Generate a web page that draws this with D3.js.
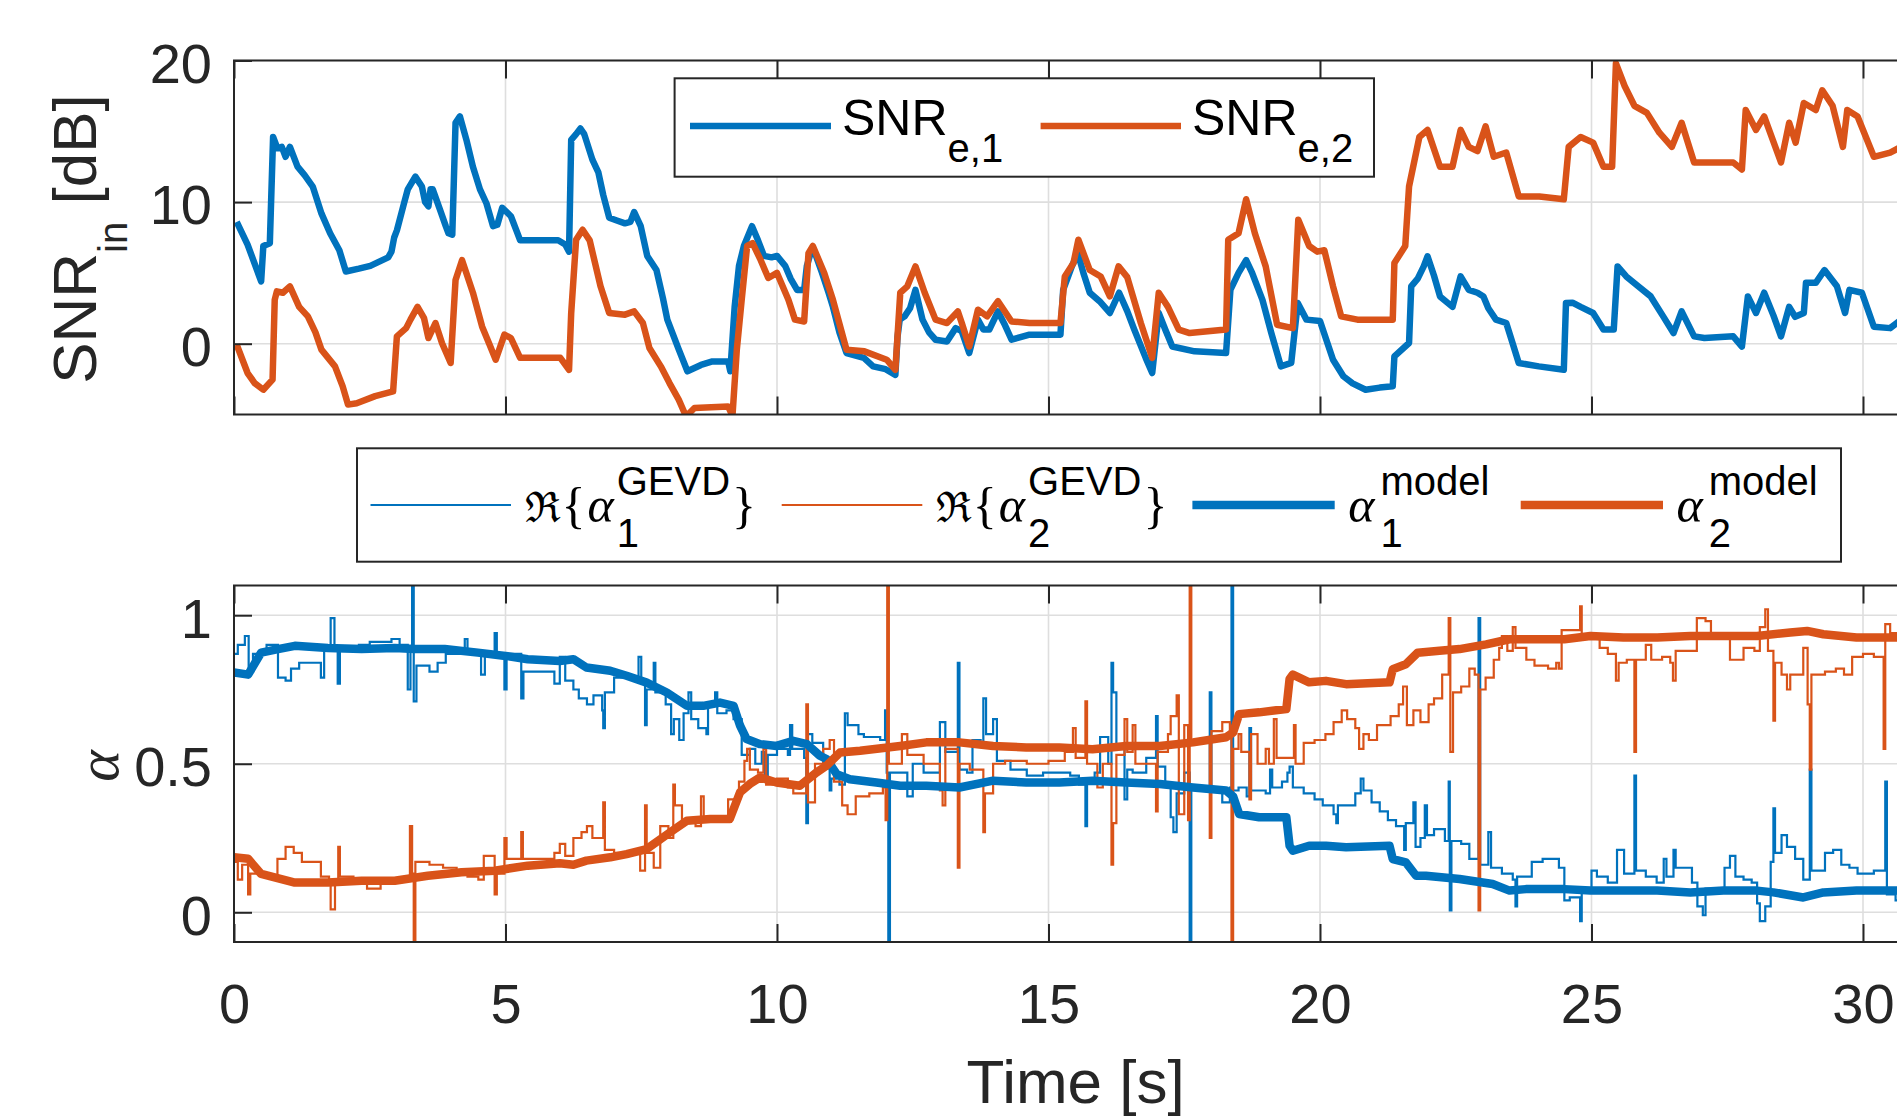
<!DOCTYPE html>
<html>
<head>
<meta charset="utf-8">
<script src="https://cdn.jsdelivr.net/npm/d3@7"></script>
<style>
  body { margin: 0; background: #fff; }
  svg { display: block; }
</style>
</head>
<body>
<script>
// values: [time in s, value]

var timeTicks = [0, 5, 10, 15, 20, 25, 30];
var snrTicks = [0, 10, 20];
var alphaTicks = [0, 0.5, 1];

var snrE1 = [[0.05,8.6],[0.25,7.0],[0.5,4.4],[0.54,6.9],[0.66,7.1],[0.72,14.6],[0.8,13.8],[0.88,13.9],[0.95,13.2],[1.03,13.9],[1.17,12.5],[1.3,11.9],[1.45,11.1],[1.61,9.2],[1.77,7.8],[1.94,6.6],[2.06,5.1],[2.3,5.3],[2.51,5.5],[2.84,6.1],[2.9,6.5],[2.95,7.5],[3.0,8.0],[3.13,9.9],[3.2,10.9],[3.34,11.8],[3.46,11.1],[3.52,10.0],[3.58,9.7],[3.62,10.9],[3.66,10.9],[3.79,9.5],[3.9,8.3],[3.95,7.8],[4.02,7.7],[4.08,15.6],[4.16,16.05],[4.28,14.4],[4.4,12.5],[4.53,10.9],[4.65,9.9],[4.77,8.3],[4.85,8.4],[4.94,9.6],[5.1,9.0],[5.2,8.0],[5.27,7.3],[5.6,7.3],[5.97,7.3],[6.1,7.0],[6.17,6.5],[6.21,14.4],[6.3,14.8],[6.38,15.2],[6.45,14.8],[6.6,13.0],[6.71,12.1],[6.8,10.5],[6.91,8.9],[7.05,8.7],[7.2,8.5],[7.3,8.6],[7.37,9.3],[7.49,8.3],[7.61,6.2],[7.78,5.2],[7.9,3.2],[7.98,1.7],[8.19,-0.4],[8.35,-1.95],[8.6,-1.5],[8.81,-1.25],[9.1,-1.25],[9.14,-1.95],[9.22,2.6],[9.3,5.5],[9.39,6.9],[9.54,8.3],[9.65,7.3],[9.76,6.2],[9.9,6.1],[10.0,6.2],[10.15,5.5],[10.25,4.6],[10.37,3.8],[10.5,3.8],[10.55,5.5],[10.62,6.4],[10.7,6.4],[10.83,5.0],[10.95,3.6],[11.03,2.6],[11.15,0.8],[11.28,-0.66],[11.6,-1.0],[11.77,-1.6],[12.0,-1.8],[12.18,-2.2],[12.22,0.5],[12.26,1.7],[12.35,1.93],[12.45,2.5],[12.55,3.8],[12.68,1.7],[12.8,0.8],[12.92,0.28],[13.13,0.16],[13.29,1.1],[13.4,0.9],[13.54,-0.66],[13.7,1.7],[13.8,1.0],[13.91,1.0],[14.07,2.28],[14.2,1.3],[14.32,0.28],[14.65,0.64],[15.22,0.64],[15.27,3.8],[15.43,5.46],[15.54,6.4],[15.65,4.9],[15.76,3.6],[15.94,3.0],[16.13,2.17],[16.3,3.6],[16.45,2.3],[16.58,1.0],[16.79,-1.0],[16.91,-2.07],[17.03,2.17],[17.15,1.0],[17.28,-0.2],[17.69,-0.54],[18.27,-0.66],[18.35,3.8],[18.5,5.0],[18.64,5.9],[18.75,5.0],[18.94,3.1],[19.1,0.8],[19.28,-1.6],[19.47,-1.36],[19.59,2.87],[19.75,1.7],[20.0,1.6],[20.24,-1.13],[20.43,-2.3],[20.6,-2.8],[20.84,-3.25],[21.1,-3.1],[21.34,-3.0],[21.37,-0.9],[21.64,0.05],[21.68,4.05],[21.8,4.6],[21.91,5.46],[21.98,6.17],[22.1,4.8],[22.21,3.34],[22.44,2.6],[22.59,4.75],[22.74,3.8],[22.9,3.6],[23.01,3.34],[23.1,2.5],[23.24,1.7],[23.43,1.46],[23.55,0.0],[23.66,-1.36],[24.03,-1.6],[24.49,-1.84],[24.53,2.87],[24.65,2.9],[24.8,2.6],[25.03,2.17],[25.22,1.0],[25.41,1.0],[25.48,5.46],[25.64,4.75],[25.86,4.05],[26.09,3.34],[26.32,1.93],[26.51,0.75],[26.66,2.28],[26.89,0.52],[27.08,0.4],[27.61,0.52],[27.77,-0.2],[27.88,3.34],[28.03,2.17],[28.18,3.6],[28.35,2.0],[28.49,0.52],[28.64,2.6],[28.75,1.9],[28.91,2.17],[28.95,4.3],[29.13,4.3],[29.29,5.2],[29.52,4.05],[29.67,2.17],[29.75,3.8],[29.98,3.6],[30.2,1.2],[30.5,1.1],[30.7,1.7]];

var snrE2 = [[0.05,-0.07],[0.25,-2.07],[0.38,-2.78],[0.54,-3.25],[0.71,-2.54],[0.75,3.1],[0.79,3.7],[0.9,3.6],[1.03,4.05],[1.2,2.6],[1.36,1.93],[1.5,0.8],[1.61,-0.42],[1.86,-1.6],[2.0,-3.0],[2.1,-4.3],[2.26,-4.2],[2.6,-3.7],[2.93,-3.37],[3.0,0.52],[3.17,1.1],[3.25,1.7],[3.38,2.6],[3.5,1.8],[3.58,0.4],[3.71,1.46],[3.83,0.05],[3.99,-1.36],[4.08,4.5],[4.2,5.9],[4.4,3.6],[4.57,1.2],[4.7,0.0],[4.82,-1.13],[4.98,0.64],[5.1,0.4],[5.27,-1.0],[6.01,-1.0],[6.17,-1.84],[6.21,2.17],[6.3,7.34],[6.42,8.05],[6.55,7.3],[6.75,4.05],[6.91,2.17],[7.2,2.05],[7.37,2.28],[7.53,1.46],[7.65,-0.3],[7.86,-1.6],[8.02,-2.78],[8.19,-3.95],[8.31,-5.0],[8.36,-5.0],[8.48,-4.54],[9.1,-4.43],[9.18,-5.1],[9.26,-0.42],[9.35,3.1],[9.45,6.9],[9.55,7.1],[9.7,5.9],[9.84,4.64],[10.0,5.0],[10.21,3.1],[10.33,1.7],[10.5,1.57],[10.58,6.4],[10.66,6.9],[10.87,5.0],[11.03,3.1],[11.28,-0.42],[11.61,-0.54],[12.02,-1.13],[12.18,-1.84],[12.27,3.6],[12.4,4.05],[12.55,5.46],[12.72,3.6],[12.92,1.7],[13.13,1.46],[13.33,2.28],[13.4,1.5],[13.54,-0.2],[13.7,2.4],[13.87,1.93],[14.07,3.0],[14.32,1.57],[14.65,1.46],[15.22,1.46],[15.3,4.75],[15.46,5.7],[15.55,7.34],[15.76,5.2],[15.96,4.75],[16.13,3.34],[16.29,5.46],[16.45,4.7],[16.7,1.46],[16.91,-1.0],[17.03,3.6],[17.2,2.6],[17.4,1.0],[17.6,0.75],[18.27,1.0],[18.31,7.34],[18.5,7.8],[18.64,10.2],[18.8,7.8],[19.0,5.46],[19.21,1.34],[19.5,1.1],[19.6,8.76],[19.8,6.9],[19.95,6.5],[20.08,6.6],[20.24,4.05],[20.39,1.93],[20.69,1.7],[21.34,1.7],[21.37,5.7],[21.57,6.9],[21.64,11.1],[21.83,14.6],[21.98,15.1],[22.21,12.5],[22.44,12.5],[22.59,15.1],[22.74,13.9],[22.9,13.6],[23.05,15.35],[23.2,13.2],[23.43,13.5],[23.66,10.4],[24.04,10.4],[24.49,10.2],[24.58,13.9],[24.8,14.6],[25.03,14.2],[25.22,12.5],[25.38,12.5],[25.45,19.8],[25.61,18.2],[25.79,16.8],[26.02,16.3],[26.25,14.9],[26.48,13.9],[26.66,15.6],[26.89,12.8],[27.61,12.8],[27.77,12.3],[27.84,16.5],[28.03,15.1],[28.18,16.05],[28.49,12.8],[28.64,15.6],[28.76,14.2],[28.91,17.0],[29.13,16.5],[29.25,17.9],[29.44,16.8],[29.63,13.9],[29.71,16.5],[29.9,16.05],[30.2,13.2],[30.5,13.5],[30.7,13.9]];

var alpha1Gevd = [[0,0.87],[0.07,0.9],[0.2,0.93],[0.27,0.81],[0.35,0.87],[0.5,0.88],[0.6,0.9],[0.81,0.79],[0.95,0.78],[1.05,0.82],[1.2,0.84],[1.5,0.84],[1.6,0.79],[1.66,0.88],[1.78,0.99],[1.85,0.88],[1.91,0.77],[1.95,0.89],[2.3,0.9],[2.5,0.91],[2.9,0.92],[3.05,0.9],[3.2,0.75],[3.25,0.88],[3.28,1.15],[3.31,0.71],[3.36,0.83],[3.6,0.81],[3.75,0.84],[3.9,0.87],[4.25,0.92],[4.3,0.87],[4.55,0.8],[4.62,0.87],[4.8,0.94],[4.84,0.87],[4.98,0.75],[5.02,0.87],[5.29,0.72],[5.33,0.81],[5.6,0.81],[5.9,0.77],[6.0,0.86],[6.1,0.78],[6.25,0.75],[6.35,0.72],[6.5,0.7],[6.62,0.73],[6.78,0.68],[6.8,0.62],[6.83,0.74],[7.0,0.79],[7.3,0.79],[7.45,0.86],[7.5,0.78],[7.57,0.63],[7.6,0.75],[7.73,0.84],[7.76,0.74],[7.95,0.7],[8.05,0.6],[8.1,0.65],[8.2,0.58],[8.28,0.67],[8.37,0.74],[8.42,0.65],[8.55,0.62],[8.7,0.6],[8.73,0.7],[8.86,0.74],[8.9,0.67],[9.07,0.68],[9.2,0.65],[9.35,0.53],[9.5,0.55],[9.6,0.5],[9.72,0.54],[9.78,0.46],[9.83,0.53],[10.0,0.55],[10.2,0.53],[10.24,0.63],[10.28,0.55],[10.5,0.52],[10.54,0.3],[10.57,0.6],[10.65,0.57],[10.85,0.5],[10.97,0.41],[11.0,0.45],[11.15,0.43],[11.25,0.67],[11.3,0.63],[11.5,0.6],[11.6,0.59],[11.9,0.58],[11.99,0.68],[12.02,0.47],[12.05,-0.15],[12.08,0.47],[12.3,0.47],[12.4,0.39],[12.5,0.5],[12.7,0.47],[13.0,0.64],[13.1,0.54],[13.3,0.54],[13.33,0.84],[13.36,0.48],[13.5,0.47],[13.6,0.58],[13.75,0.57],[13.8,0.72],[13.85,0.6],[13.98,0.65],[14.05,0.51],[14.3,0.48],[14.6,0.46],[14.9,0.47],[15.2,0.47],[15.4,0.46],[15.56,0.43],[15.68,0.29],[15.71,0.45],[15.85,0.47],[15.95,0.59],[16.1,0.5],[16.16,0.84],[16.19,0.74],[16.25,0.55],[16.4,0.38],[16.45,0.48],[16.55,0.47],[16.8,0.52],[16.98,0.66],[17.01,0.49],[17.15,0.43],[17.25,0.32],[17.3,0.27],[17.36,0.4],[17.5,0.47],[17.6,-0.15],[17.63,0.42],[17.85,0.42],[17.97,0.74],[18.0,0.42],[18.2,0.37],[18.34,0.42],[18.37,1.15],[18.4,0.41],[18.5,0.42],[18.65,0.39],[18.7,0.62],[18.73,0.41],[18.9,0.41],[19.0,0.4],[19.08,0.48],[19.12,0.42],[19.3,0.44],[19.4,0.47],[19.44,0.49],[19.5,0.42],[19.7,0.4],[19.9,0.38],[20.05,0.36],[20.25,0.33],[20.3,0.3],[20.33,0.36],[20.5,0.36],[20.65,0.4],[20.75,0.45],[20.8,0.41],[20.95,0.37],[21.1,0.34],[21.25,0.31],[21.4,0.29],[21.55,0.21],[21.58,0.3],[21.72,0.37],[21.76,0.22],[21.85,0.25],[21.93,0.36],[21.97,0.26],[22.1,0.28],[22.3,0.24],[22.37,0.44],[22.39,0.006],[22.42,0.24],[22.6,0.23],[22.75,0.18],[22.92,0.99],[22.95,0.16],[23.1,0.27],[23.15,0.15],[23.35,0.13],[23.55,0.11],[23.6,0.02],[23.63,0.12],[23.75,0.12],[23.9,0.17],[24.1,0.18],[24.35,0.18],[24.4,0.15],[24.5,0.04],[24.6,0.05],[24.79,-0.03],[24.82,0.08],[24.9,0.08],[25.0,0.14],[25.1,0.12],[25.3,0.1],[25.47,0.21],[25.6,0.13],[25.79,0.46],[25.82,0.14],[26.0,0.12],[26.2,0.1],[26.33,0.18],[26.38,0.12],[26.51,0.21],[26.55,0.15],[26.7,0.15],[26.85,0.1],[26.95,0.02],[27.05,-0.01],[27.1,0.08],[27.3,0.08],[27.45,0.15],[27.55,0.19],[27.65,0.12],[27.8,0.11],[27.95,0.1],[28.05,0.03],[28.1,-0.03],[28.2,0.02],[28.3,0.17],[28.35,0.35],[28.38,0.2],[28.5,0.26],[28.6,0.22],[28.75,0.18],[28.9,0.11],[29.02,0.48],[29.05,0.14],[29.15,0.14],[29.3,0.2],[29.45,0.21],[29.6,0.16],[29.75,0.15],[29.9,0.13],[30.2,0.14],[30.41,0.44],[30.44,0.06],[30.6,0.04],[30.7,0.05]];

var alpha2Gevd = [[0,0.17],[0.07,0.11],[0.15,0.16],[0.26,0.06],[0.3,0.13],[0.4,0.13],[0.6,0.12],[0.8,0.18],[0.95,0.22],[1.1,0.2],[1.25,0.17],[1.5,0.17],[1.6,0.12],[1.75,0.1],[1.78,0.01],[1.86,0.1],[1.92,0.22],[1.95,0.12],[2.2,0.1],[2.45,0.08],[2.7,0.1],[3.0,0.11],[3.2,0.12],[3.24,0.29],[3.28,0.13],[3.31,-0.15],[3.34,0.17],[3.6,0.16],[3.85,0.15],[4.1,0.14],[4.3,0.12],[4.5,0.11],[4.6,0.19],[4.8,0.06],[4.84,0.13],[4.98,0.25],[5.02,0.18],[5.2,0.18],[5.29,0.27],[5.32,0.18],[5.6,0.18],[5.9,0.2],[6.0,0.23],[6.1,0.19],[6.25,0.25],[6.4,0.27],[6.5,0.29],[6.6,0.25],[6.8,0.37],[6.83,0.21],[7.0,0.2],[7.3,0.2],[7.48,0.14],[7.57,0.36],[7.6,0.2],[7.73,0.15],[7.85,0.29],[8.0,0.25],[8.09,0.43],[8.12,0.36],[8.25,0.31],[8.37,0.31],[8.5,0.29],[8.6,0.39],[8.65,0.32],[8.8,0.31],[8.95,0.32],[9.1,0.38],[9.3,0.44],[9.4,0.51],[9.45,0.55],[9.5,0.48],[9.65,0.47],[9.75,0.55],[9.8,0.43],[10.0,0.45],[10.2,0.42],[10.3,0.4],[10.54,0.7],[10.57,0.37],[10.7,0.5],[10.85,0.55],[10.97,0.58],[11.05,0.44],[11.2,0.36],[11.3,0.33],[11.45,0.39],[11.7,0.4],[11.95,0.42],[12.0,0.31],[12.03,1.15],[12.06,0.5],[12.3,0.6],[12.4,0.53],[12.7,0.5],[13.0,0.41],[13.05,0.36],[13.1,0.55],[13.33,0.15],[13.36,0.5],[13.55,0.48],[13.8,0.27],[13.83,0.4],[13.98,0.5],[14.2,0.51],[14.6,0.5],[15.0,0.51],[15.3,0.54],[15.45,0.62],[15.5,0.52],[15.68,0.71],[15.71,0.5],[15.9,0.42],[16.0,0.5],[16.16,0.16],[16.19,0.3],[16.25,0.53],[16.4,0.65],[16.45,0.54],[16.55,0.63],[16.6,0.5],[16.98,0.34],[17.01,0.54],[17.2,0.6],[17.25,0.66],[17.36,0.73],[17.4,0.33],[17.5,0.63],[17.57,0.31],[17.6,1.15],[17.63,0.58],[17.9,0.57],[17.97,0.25],[18.0,0.61],[18.2,0.64],[18.34,0.6],[18.37,-0.15],[18.4,0.55],[18.5,0.6],[18.55,0.54],[18.7,0.38],[18.73,0.6],[18.85,0.5],[19.0,0.55],[19.06,0.5],[19.15,0.65],[19.2,0.52],[19.4,0.52],[19.52,0.63],[19.55,0.5],[19.7,0.57],[19.9,0.58],[20.1,0.6],[20.25,0.64],[20.4,0.68],[20.5,0.65],[20.65,0.62],[20.72,0.55],[20.8,0.6],[20.9,0.58],[21.05,0.63],[21.2,0.63],[21.3,0.66],[21.45,0.7],[21.53,0.76],[21.6,0.63],[21.72,0.68],[21.85,0.64],[22.0,0.7],[22.1,0.72],[22.25,0.8],[22.37,0.99],[22.4,0.54],[22.45,0.74],[22.6,0.76],[22.75,0.82],[22.85,0.8],[22.92,0.006],[22.95,0.75],[23.05,0.79],[23.2,0.85],[23.3,0.89],[23.35,0.93],[23.45,0.88],[23.55,0.96],[23.6,0.89],[23.8,0.85],[23.95,0.83],[24.2,0.82],[24.35,0.84],[24.4,0.82],[24.45,0.95],[24.6,0.95],[24.79,1.03],[24.82,0.93],[25.0,0.93],[25.15,0.89],[25.3,0.87],[25.45,0.78],[25.5,0.84],[25.65,0.85],[25.79,0.54],[25.82,0.85],[26.0,0.9],[26.1,0.85],[26.3,0.86],[26.45,0.84],[26.5,0.78],[26.55,0.88],[26.8,0.88],[26.94,0.99],[27.1,0.98],[27.2,0.93],[27.4,0.93],[27.55,0.85],[27.65,0.85],[27.8,0.89],[28.0,0.88],[28.1,0.96],[28.2,1.02],[28.25,0.88],[28.35,0.645],[28.38,0.84],[28.5,0.8],[28.6,0.75],[28.66,0.8],[28.8,0.8],[28.9,0.89],[28.98,0.7],[29.02,0.48],[29.05,0.8],[29.3,0.81],[29.5,0.82],[29.65,0.8],[29.8,0.86],[30.0,0.87],[30.2,0.86],[30.38,0.55],[30.41,0.97],[30.5,0.94],[30.7,0.92]];

var alpha1Model = [[0,0.807],[0.26,0.8],[0.5,0.874],[0.81,0.886],[1.12,0.897],[1.73,0.89],[2.35,0.886],[2.96,0.89],[3.33,0.886],[3.88,0.886],[4.49,0.874],[5.0,0.863],[5.41,0.852],[6.0,0.846],[6.25,0.852],[6.49,0.824],[6.93,0.813],[7.23,0.796],[7.6,0.773],[7.97,0.74],[8.34,0.695],[8.64,0.695],[8.95,0.706],[9.2,0.695],[9.32,0.628],[9.44,0.583],[9.69,0.566],[9.99,0.56],[10.3,0.577],[10.55,0.566],[10.79,0.527],[10.91,0.516],[11.1,0.465],[11.34,0.448],[11.83,0.437],[12.27,0.426],[12.75,0.426],[13.36,0.42],[13.98,0.443],[14.59,0.437],[15.2,0.437],[15.81,0.443],[16.43,0.437],[17.05,0.432],[17.66,0.42],[18.27,0.41],[18.4,0.39],[18.51,0.331],[18.88,0.32],[19.38,0.32],[19.44,0.224],[19.5,0.207],[19.8,0.224],[20.11,0.224],[20.48,0.219],[21.28,0.224],[21.34,0.179],[21.58,0.168],[21.77,0.123],[21.95,0.123],[22.57,0.112],[23.18,0.095],[23.49,0.073],[23.79,0.078],[24.5,0.078],[24.98,0.073],[25.59,0.073],[26.21,0.073],[26.82,0.067],[27.43,0.073],[28.05,0.073],[28.35,0.067],[28.9,0.05],[29.27,0.067],[29.88,0.073],[30.7,0.073]];

var alpha2Model = [[0,0.185],[0.26,0.18],[0.5,0.129],[1.12,0.1],[1.73,0.1],[2.35,0.106],[2.96,0.106],[3.57,0.123],[4.19,0.135],[4.8,0.14],[5.41,0.157],[6.0,0.165],[6.25,0.16],[6.49,0.174],[6.93,0.185],[7.23,0.196],[7.6,0.213],[8.03,0.269],[8.34,0.308],[8.77,0.314],[9.13,0.314],[9.32,0.404],[9.5,0.432],[9.69,0.454],[9.99,0.437],[10.42,0.426],[10.73,0.471],[10.91,0.493],[11.16,0.538],[11.53,0.544],[12.27,0.56],[12.75,0.572],[13.36,0.572],[13.98,0.56],[14.59,0.555],[15.2,0.555],[15.81,0.549],[16.43,0.56],[17.05,0.56],[17.66,0.572],[18.27,0.589],[18.4,0.605],[18.51,0.667],[18.88,0.673],[19.38,0.684],[19.44,0.785],[19.5,0.8],[19.8,0.774],[20.11,0.779],[20.48,0.768],[21.28,0.774],[21.34,0.818],[21.58,0.835],[21.8,0.874],[22.2,0.88],[22.57,0.886],[23.06,0.902],[23.49,0.919],[24.5,0.919],[24.98,0.93],[25.59,0.925],[26.21,0.925],[26.82,0.93],[27.43,0.93],[28.05,0.93],[28.66,0.942],[28.97,0.947],[29.27,0.936],[29.88,0.925],[30.7,0.925]];

//config

var WD = 1897, HT = 1116;
var blue = "#0072BD", orange = "#D95319", ink = "#262626", gridCol = "#dedede";
var fontSans = "'Liberation Sans', Arial, Helvetica, sans-serif";
var fontSerif = "'Liberation Serif', 'Times New Roman', serif";

var x = d3.scaleLinear().domain([0, 31]).range([234, 234 + 31 * 54.3]);
var yTop = d3.scaleLinear().domain([-5, 20]).range([414.5, 60.5]);
var yBot = d3.scaleLinear().domain([-0.1, 1.1]).range([942, 585.5]);

var svg = d3.select("body").append("svg")
    .attr("width", WD)
    .attr("height", HT);

var lineOf = function(y, curve) {
    return d3.line()
        .x(function(d) { return x(d[0]); })
        .y(function(d) { return y(d[1]); })
        .curve(curve || d3.curveLinear);
};

function drawGrid(y, yTicks, clipId) {
    var top = y.range()[1], bot = y.range()[0];
    var g = svg.append("g");
    g.selectAll(".gx").data(timeTicks.slice(1)).enter().append("line")
        .attr("x1", function(d) { return x(d); }).attr("x2", function(d) { return x(d); })
        .attr("y1", top).attr("y2", bot)
        .attr("stroke", gridCol).attr("stroke-width", 1.6);
    g.selectAll(".gy").data(yTicks).enter().append("line")
        .attr("x1", x.range()[0]).attr("x2", x.range()[1])
        .attr("y1", function(d) { return y(d); }).attr("y2", function(d) { return y(d); })
        .attr("stroke", gridCol).attr("stroke-width", 1.6);

    svg.append("clipPath").attr("id", clipId)
      .append("rect")
        .attr("x", x.range()[0]).attr("y", top)
        .attr("width", x.range()[1] - x.range()[0]).attr("height", bot - top);
}

function drawFrame(y, yTicks, showXLabels) {
    var top = y.range()[1], bot = y.range()[0];

    var axB = d3.axisBottom(x).tickValues(timeTicks).tickSizeInner(-18).tickSizeOuter(0)
        .tickPadding(41).tickFormat(showXLabels ? function(d) { return d; } : "");
    var axT = d3.axisTop(x).tickValues(timeTicks).tickSizeInner(-18).tickSizeOuter(0).tickFormat("");
    var axL = d3.axisLeft(y).tickValues(yTicks).tickSizeInner(-18).tickSizeOuter(0)
        .tickPadding(22).tickFormat(function(d) { return String(d); });

    [[axB, "translate(0," + bot + ")"], [axT, "translate(0," + top + ")"], [axL, "translate(" + x.range()[0] + ",0)"]]
      .forEach(function(a) {
        var g = svg.append("g").attr("transform", a[1]).call(a[0]);
        g.attr("font-family", fontSans).attr("font-size", 56).style("color", ink);
        g.select(".domain").remove();
        g.selectAll(".tick line").attr("stroke-width", 2);
        g.selectAll(".tick text").attr("fill", ink);
        if (a[0] === axL) g.selectAll(".tick text").attr("dy", "0.39em");
      });

    svg.append("rect")
        .attr("x", x.range()[0]).attr("y", top)
        .attr("width", x.range()[1] - x.range()[0]).attr("height", bot - top)
        .attr("fill", "none").attr("stroke", ink).attr("stroke-width", 2);
}

// lays out text pieces one after the other; a group stacks sub- and superscript
function richText(g, x0, y0, parts) {
    var cx = x0;
    parts.forEach(function(p) {
        var items = p.group || [p];
        var w = 0;
        items.forEach(function(q) {
            var t = g.append("text")
                .attr("x", cx).attr("y", y0 + (q.dy || 0))
                .attr("fill", "#000")
                .style("font-family", q.font || fontSans)
                .style("font-size", q.size + "px")
                .style("font-style", q.style || "normal")
                .text(q.t);
            w = Math.max(w, t.node().getComputedTextLength());
        });
        cx += w + (p.gap || 0);
    });
}

//top panel: SNR

drawGrid(yTop, snrTicks, "clipTop");

var gTop = svg.append("g").attr("clip-path", "url(#clipTop)");
[[snrE1, blue], [snrE2, orange]].forEach(function(s) {
    gTop.append("path")
        .attr("d", lineOf(yTop)(s[0]))
        .attr("fill", "none").attr("stroke", s[1])
        .attr("stroke-width", 6.5).attr("stroke-linejoin", "round");
});

drawFrame(yTop, snrTicks, false);

//bottom panel: alpha

drawGrid(yBot, alphaTicks, "clipBot");

var gBot = svg.append("g").attr("clip-path", "url(#clipBot)");
[[alpha1Gevd, blue], [alpha2Gevd, orange]].forEach(function(s) {
    gBot.append("path")
        .attr("d", lineOf(yBot, d3.curveStepAfter)(s[0]))
        .attr("fill", "none").attr("stroke", s[1]).attr("stroke-width", 2.2);
});
[[alpha1Model, blue], [alpha2Model, orange]].forEach(function(s) {
    gBot.append("path")
        .attr("d", lineOf(yBot)(s[0]))
        .attr("fill", "none").attr("stroke", s[1])
        .attr("stroke-width", 8.5).attr("stroke-linejoin", "round");
});

drawFrame(yBot, alphaTicks, true);

//axis labels

var xMid = (x.range()[0] + x.range()[1]) / 2;
svg.append("text")
    .attr("x", xMid).attr("y", 1103)
    .attr("text-anchor", "middle").attr("fill", ink)
    .style("font-family", fontSans).style("font-size", "62px")
    .text("Time [s]");

var yl = svg.append("text")
    .attr("transform", "translate(96,239) rotate(-90)")
    .attr("text-anchor", "middle").attr("fill", ink)
    .style("font-family", fontSans).style("font-size", "62px");
yl.append("tspan").text("SNR");
yl.append("tspan").attr("dy", 31).style("font-size", "40px").text("in");
yl.append("tspan").attr("dy", -31).text("\u00a0[dB]");

svg.append("text")
    .attr("transform", "translate(118,766) rotate(-90)")
    .attr("text-anchor", "middle").attr("fill", ink)
    .style("font-family", fontSerif).style("font-style", "italic").style("font-size", "60px")
    .text("α");

//legends

var leg1 = svg.append("g");
leg1.append("rect")
    .attr("x", 674.6).attr("y", 78.3).attr("width", 699.4).attr("height", 98.4)
    .attr("fill", "#fff").attr("stroke", ink).attr("stroke-width", 2);
[
  { x1: 690, x2: 831, color: blue, parts: [{ t: "SNR", size: 50 }, { t: "e,1", size: 40, dy: 27 }] },
  { x1: 1040.6, x2: 1181, color: orange, parts: [{ t: "SNR", size: 50 }, { t: "e,2", size: 40, dy: 27 }] }
].forEach(function(e) {
    leg1.append("line")
        .attr("x1", e.x1).attr("x2", e.x2).attr("y1", 126).attr("y2", 126)
        .attr("stroke", e.color).attr("stroke-width", 6.5);
    richText(leg1, e.x2 + 11, 135, e.parts);
});

var gevdParts = function(k) {
    return [
        { t: "ℜ", font: "'DejaVu Serif', serif", size: 42, gap: 1 },
        { t: "{", font: fontSerif, size: 50, gap: 2 },
        { t: "α", font: fontSerif, style: "italic", size: 50, gap: 3 },
        { group: [{ t: k, size: 40, dy: 25 }, { t: "GEVD", size: 40, dy: -27 }], gap: 2 },
        { t: "}", font: fontSerif, size: 50 }
    ];
};
var modelParts = function(k) {
    return [
        { t: "α", font: fontSerif, style: "italic", size: 50, gap: 6 },
        { group: [{ t: k, size: 40, dy: 25 }, { t: "model", size: 40, dy: -27 }] }
    ];
};

var leg2 = svg.append("g");
leg2.append("rect")
    .attr("x", 357).attr("y", 448.3).attr("width", 1484).attr("height", 113.4)
    .attr("fill", "#fff").attr("stroke", ink).attr("stroke-width", 2);
[
  { x1: 370.5, x2: 511, color: blue, w: 2.2, parts: gevdParts("1") },
  { x1: 781.7, x2: 922.3, color: orange, w: 2.2, parts: gevdParts("2") },
  { x1: 1192.4, x2: 1334.7, color: blue, w: 8.5, parts: modelParts("1") },
  { x1: 1520.7, x2: 1663, color: orange, w: 8.5, parts: modelParts("2") }
].forEach(function(e) {
    leg2.append("line")
        .attr("x1", e.x1).attr("x2", e.x2).attr("y1", 505).attr("y2", 505)
        .attr("stroke", e.color).attr("stroke-width", e.w);
    richText(leg2, e.x2 + 13.5, 522, e.parts);
});
</script>
</body>
</html>
